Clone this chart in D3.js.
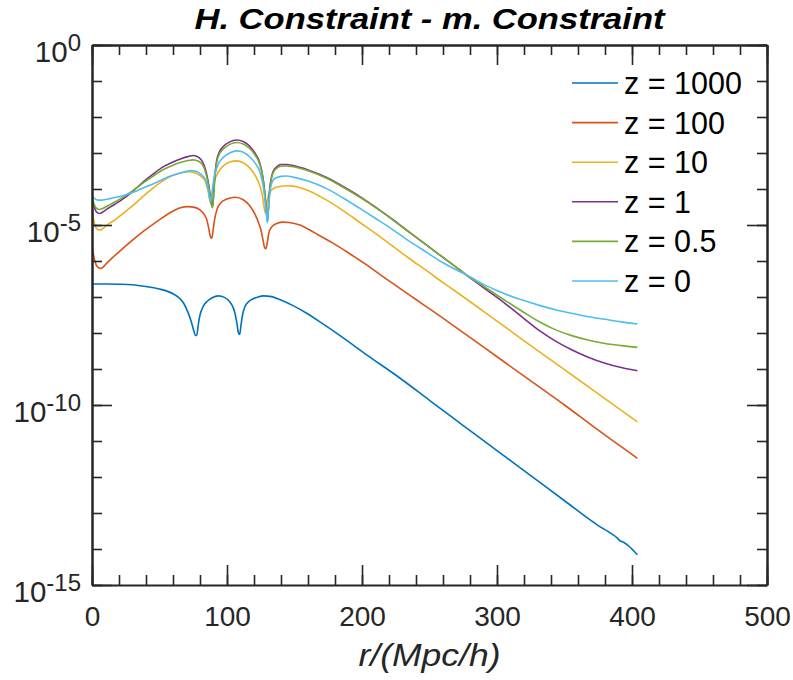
<!DOCTYPE html>
<html>
<head>
<meta charset="utf-8">
<script src="https://cdn.jsdelivr.net/npm/d3@7"></script>
<style>
  html, body { margin: 0; padding: 0; background: #ffffff; }
  svg { display: block; }
</style>
</head>
<body>
<script>
// Each series: [r in Mpc/h, log10 of |H. constraint - m. constraint|]
const z1000 = [[0,-6.64],[10,-6.64],[20,-6.645],[30,-6.66],[40,-6.71],[50,-6.78],[55,-6.83],[60,-6.91],[65,-7.04],[68,-7.18],[71,-7.42],[73.5,-7.68],[75.5,-7.95],[76.6,-8.07],[77.6,-8.07],[78.6,-7.8],[80,-7.5],[81.2,-7.36],[83,-7.22],[85,-7.13],[89,-7.02],[93.6,-6.97],[98,-7.01],[102,-7.13],[104,-7.25],[105.9,-7.45],[107.3,-7.72],[108.5,-8.0],[109.4,-8.04],[110.3,-7.8],[111.5,-7.5],[113.3,-7.27],[116,-7.13],[119.5,-7.05],[123,-7.0],[127,-6.97],[133,-6.99],[139,-7.07],[150,-7.26],[159,-7.45],[170,-7.72],[184,-8.08],[204,-8.62],[228,-9.25],[250,-9.87],[275,-10.57],[300,-11.27],[325,-11.96],[350,-12.66],[375,-13.35],[385,-13.58],[389,-13.69],[391,-13.77],[394,-13.82],[398,-13.93],[401,-14.04],[404,-14.16]];

const z100 = [[0,-5.58],[1.5,-5.9],[3,-6.1],[4.5,-6.18],[6.4,-6.21],[8.5,-6.16],[11,-6.06],[14,-5.95],[18,-5.81],[21.7,-5.69],[30,-5.42],[38,-5.18],[46.4,-4.95],[52,-4.80],[58.8,-4.64],[65,-4.53],[71,-4.49],[76,-4.51],[80,-4.58],[83,-4.70],[85,-4.85],[86.5,-5.1],[87.5,-5.3],[88.2,-5.37],[89,-5.33],[89.8,-5.12],[90.8,-4.85],[92.3,-4.60],[95,-4.40],[100,-4.28],[106,-4.23],[112,-4.30],[117,-4.47],[120.7,-4.70],[123,-4.9],[125,-5.12],[126.6,-5.4],[127.8,-5.62],[128.8,-5.66],[129.8,-5.5],[131,-5.22],[133,-5.06],[136,-4.97],[141,-4.92],[146,-4.93],[154,-5.0],[165,-5.22],[178.8,-5.51],[191,-5.80],[203.5,-6.11],[215,-6.42],[228,-6.76],[240,-7.07],[252.8,-7.40],[275,-7.99],[300,-8.66],[325,-9.33],[350,-10.0],[375,-10.70],[404,-11.48]];

const z10 = [[0,-4.63],[1.5,-4.9],[3,-5.08],[4.5,-5.13],[5.7,-5.14],[8,-5.10],[11,-5.01],[14,-4.93],[18,-4.83],[21.7,-4.72],[30,-4.47],[38,-4.20],[46.4,-3.94],[53,-3.76],[60,-3.62],[66,-3.55],[71,-3.52],[76,-3.55],[80,-3.63],[83.5,-3.75],[85.3,-3.95],[86.5,-4.15],[87.4,-4.35],[88.2,-4.38],[89,-4.15],[90,-3.88],[92.3,-3.62],[95,-3.45],[98,-3.34],[102,-3.25],[107,-3.22],[112,-3.27],[117,-3.42],[121,-3.63],[124.4,-3.92],[126.3,-4.2],[127.5,-4.5],[128.3,-4.66],[129.2,-4.45],[130.5,-4.2],[132.5,-4.05],[135,-3.97],[139,-3.93],[144,-3.91],[149,-3.92],[160,-4.04],[173.8,-4.31],[186,-4.60],[198.5,-4.93],[211,-5.26],[223.2,-5.60],[235,-5.93],[247.9,-6.27],[260,-6.60],[272.6,-6.93],[300,-7.67],[325,-8.35],[350,-9.02],[375,-9.69],[404,-10.47]];

const z1 = [[0,-4.24],[1.5,-4.48],[3,-4.62],[4.5,-4.67],[5.7,-4.68],[8,-4.64],[11,-4.56],[14,-4.49],[18,-4.40],[21.7,-4.31],[30,-4.07],[38,-3.80],[46.4,-3.55],[53,-3.38],[60,-3.25],[66,-3.16],[71,-3.10],[75,-3.07],[79,-3.12],[82,-3.25],[84,-3.45],[85.8,-3.75],[87.3,-4.1],[88.5,-4.42],[89.3,-4.47],[90.1,-4.1],[91,-3.65],[92.3,-3.22],[94,-3.0],[97.3,-2.82],[102,-2.69],[107.2,-2.64],[112,-2.68],[117,-2.82],[121,-3.02],[124.4,-3.29],[126.5,-3.65],[128,-4.1],[129.2,-4.6],[129.9,-4.88],[130.6,-4.55],[131.6,-4.0],[132.8,-3.7],[134.3,-3.50],[137,-3.38],[140,-3.32],[144,-3.32],[149,-3.35],[160,-3.47],[173.8,-3.68],[186,-3.93],[198.5,-4.21],[211,-4.53],[223.2,-4.86],[235,-5.20],[247.9,-5.56],[260,-5.90],[272.6,-6.25],[276,-6.35],[290,-6.74],[307,-7.21],[320,-7.60],[332,-7.95],[344,-8.24],[356,-8.48],[368,-8.68],[380,-8.84],[392,-8.96],[404,-9.05]];

const z05 = [[0,-4.22],[1.5,-4.42],[3,-4.52],[4.5,-4.56],[5.7,-4.57],[8,-4.54],[11,-4.48],[14,-4.42],[18,-4.34],[21.7,-4.26],[30,-4.05],[38,-3.83],[46.4,-3.61],[53,-3.46],[60,-3.34],[66,-3.26],[71,-3.21],[75,-3.19],[79,-3.23],[82,-3.34],[84,-3.52],[85.8,-3.80],[87.3,-4.15],[88.6,-4.47],[89.4,-4.52],[90.2,-4.15],[91,-3.72],[92.3,-3.28],[94,-3.06],[97.3,-2.89],[102,-2.76],[107.2,-2.71],[112,-2.75],[117,-2.88],[121,-3.07],[124.4,-3.33],[126.5,-3.68],[128,-4.12],[129.2,-4.62],[130,-4.92],[130.7,-4.58],[131.7,-4.02],[132.9,-3.73],[134.3,-3.54],[137,-3.42],[140,-3.37],[144,-3.36],[149,-3.38],[160,-3.49],[173.8,-3.70],[186,-3.95],[198.5,-4.23],[211,-4.54],[223.2,-4.87],[235,-5.20],[247.9,-5.56],[260,-5.90],[272.6,-6.25],[276,-6.35],[290,-6.70],[307,-7.12],[320,-7.43],[332,-7.70],[344,-7.92],[356,-8.08],[368,-8.20],[380,-8.29],[392,-8.35],[404,-8.40]];

const z0 = [[0,-4.19],[1.5,-4.25],[3,-4.29],[4.5,-4.31],[7,-4.31],[10,-4.29],[14,-4.26],[18,-4.23],[21.7,-4.20],[30,-4.10],[38,-3.97],[46.4,-3.84],[53,-3.72],[60,-3.62],[66,-3.55],[70,-3.51],[73.6,-3.49],[77,-3.51],[80,-3.57],[83,-3.68],[85,-3.85],[86.5,-4.1],[87.6,-4.35],[88.4,-4.28],[89.3,-3.98],[90.5,-3.66],[92.3,-3.43],[94.5,-3.24],[97.3,-3.12],[102,-3.0],[107.2,-2.94],[112,-2.98],[117,-3.11],[121,-3.29],[124.4,-3.53],[126.5,-3.85],[128,-4.25],[129.2,-4.7],[129.9,-4.93],[130.6,-4.6],[131.6,-4.15],[132.8,-3.88],[134.3,-3.75],[137,-3.68],[140,-3.65],[144,-3.64],[149,-3.67],[160,-3.78],[173.8,-3.99],[186,-4.25],[198.5,-4.54],[211,-4.84],[223.2,-5.14],[235,-5.45],[247.9,-5.76],[260,-6.05],[272.6,-6.30],[276,-6.36],[290,-6.65],[300,-6.82],[307,-6.93],[320,-7.10],[332,-7.24],[344,-7.36],[356,-7.46],[368,-7.55],[380,-7.62],[392,-7.69],[404,-7.75]];

const seriesData = [z1000, z100, z10, z1, z05, z0];
const seriesNames = ["z = 1000", "z = 100", "z = 10", "z = 1", "z = 0.5", "z = 0"];
const seriesColors = ["#0072BD", "#D95319", "#EDB120", "#7E2F8E", "#77AC30", "#4DBEEE"];

const xMajorTicks = [0, 100, 200, 300, 400, 500];
const xMinorTicks = d3.range(0, 501, 20);
const yMajorExponents = [0, -5, -10, -15];
const yMinorExponents = d3.range(0, -16, -1);

const titleText = "H. Constraint - m. Constraint";
const xLabelText = "r/(Mpc/h)";

// ---- layout ----
const W = 793, H = 680;
const plot = { left: 92, right: 767, top: 45, bottom: 585 };
const axisColor = "#262626";
const fontFamily = "'Liberation Sans', Arial, Helvetica, sans-serif";

const x = d3.scaleLinear().domain([0, 500]).range([plot.left, plot.right]);
const y = d3.scaleLog().domain([1e-15, 1]).range([plot.bottom, plot.top]);

const svg = d3.select("body").append("svg")
  .attr("width", W).attr("height", H)
  .attr("viewBox", `0 0 ${W} ${H}`)
  .style("font-family", fontFamily);

svg.append("rect").attr("width", W).attr("height", H).attr("fill", "#ffffff");

// ---- data lines (clipped to the axes box) ----
svg.append("clipPath").attr("id", "plot-clip")
  .append("rect")
  .attr("x", plot.left).attr("y", plot.top)
  .attr("width", plot.right - plot.left).attr("height", plot.bottom - plot.top);

const line = d3.line()
  .x(d => x(d[0]))
  .y(d => y(Math.pow(10, d[1])))
  .curve(d3.curveMonotoneX);

const lines = svg.append("g").attr("clip-path", "url(#plot-clip)");
seriesData.forEach((pts, i) => {
  lines.append("path")
    .datum(pts)
    .attr("d", line)
    .attr("fill", "none")
    .attr("stroke", seriesColors[i])
    .attr("stroke-width", 1.6)
    .attr("stroke-linejoin", "round");
});

// ---- axes box with inward ticks on all four sides ----
function styleAxis(g) {
  g.selectAll("path.domain").attr("stroke", axisColor).attr("stroke-width", 2);
  g.selectAll(".tick line").attr("stroke", axisColor).attr("stroke-width", 1.6);
}

const decade = e => Math.pow(10, e);

// bottom
svg.append("g").attr("transform", `translate(0,${plot.bottom})`)
  .call(d3.axisBottom(x).tickValues(xMinorTicks).tickSizeInner(-10).tickSizeOuter(0).tickFormat(""))
  .call(styleAxis);
const xAxisMajor = svg.append("g").attr("transform", `translate(0,${plot.bottom})`)
  .call(d3.axisBottom(x).tickValues(xMajorTicks).tickSizeInner(-20).tickSizeOuter(0).tickPadding(21).tickFormat(d3.format("d")))
  .call(styleAxis);
xAxisMajor.select("path.domain").remove();
xAxisMajor.selectAll(".tick text")
  .attr("fill", axisColor)
  .style("font-size", "28px")
  .style("font-family", fontFamily);

// top
svg.append("g").attr("transform", `translate(0,${plot.top})`)
  .call(d3.axisTop(x).tickValues(xMinorTicks).tickSizeInner(-10).tickSizeOuter(0).tickFormat(""))
  .call(styleAxis);
svg.append("g").attr("transform", `translate(0,${plot.top})`)
  .call(d3.axisTop(x).tickValues(xMajorTicks).tickSizeInner(-20).tickSizeOuter(0).tickFormat(""))
  .call(styleAxis);

// left
svg.append("g").attr("transform", `translate(${plot.left},0)`)
  .call(d3.axisLeft(y).tickValues(yMinorExponents.map(decade)).tickSizeInner(-10).tickSizeOuter(0).tickFormat(""))
  .call(styleAxis);
svg.append("g").attr("transform", `translate(${plot.left},0)`)
  .call(d3.axisLeft(y).tickValues(yMajorExponents.map(decade)).tickSizeInner(-20).tickSizeOuter(0).tickFormat(""))
  .call(styleAxis);

// right
svg.append("g").attr("transform", `translate(${plot.right},0)`)
  .call(d3.axisRight(y).tickValues(yMinorExponents.map(decade)).tickSizeInner(-10).tickSizeOuter(0).tickFormat(""))
  .call(styleAxis);
svg.append("g").attr("transform", `translate(${plot.right},0)`)
  .call(d3.axisRight(y).tickValues(yMajorExponents.map(decade)).tickSizeInner(-20).tickSizeOuter(0).tickFormat(""))
  .call(styleAxis);

// y tick labels as 10 with a raised exponent
const yLabels = svg.append("g").attr("fill", axisColor);
yMajorExponents.forEach(e => {
  const t = yLabels.append("text")
    .attr("x", 81)
    .attr("y", y(decade(e)) + 17)
    .attr("text-anchor", "end")
    .style("font-size", "29.5px");
  t.append("tspan").text("10");
  t.append("tspan").attr("dy", -11).style("font-size", "24px").text(String(e));
});

// ---- title and x label ----
svg.append("text")
  .attr("x", (plot.left + plot.right) / 2)
  .attr("y", 29)
  .attr("text-anchor", "middle")
  .attr("fill", "#000")
  .style("font-size", "29px")
  .style("font-weight", "bold")
  .style("font-style", "italic")
  .attr("textLength", 470)
  .attr("lengthAdjust", "spacingAndGlyphs")
  .text(titleText);

svg.append("text")
  .attr("x", (plot.left + plot.right) / 2)
  .attr("y", 666)
  .attr("text-anchor", "middle")
  .attr("fill", axisColor)
  .style("font-size", "32px")
  .style("font-style", "italic")
  .attr("textLength", 142)
  .attr("lengthAdjust", "spacingAndGlyphs")
  .text(xLabelText);

// ---- legend ----
const legend = svg.append("g");
seriesNames.forEach((name, i) => {
  const ly = 83 + i * 39.6;
  legend.append("line")
    .attr("x1", 572).attr("x2", 618)
    .attr("y1", ly).attr("y2", ly)
    .attr("stroke", seriesColors[i])
    .attr("stroke-width", 1.6);
  legend.append("text")
    .attr("x", 624)
    .attr("y", ly + 11)
    .attr("fill", "#000")
    .style("font-size", "30.5px")
    .text(name);
});
</script>
</body>
</html>
